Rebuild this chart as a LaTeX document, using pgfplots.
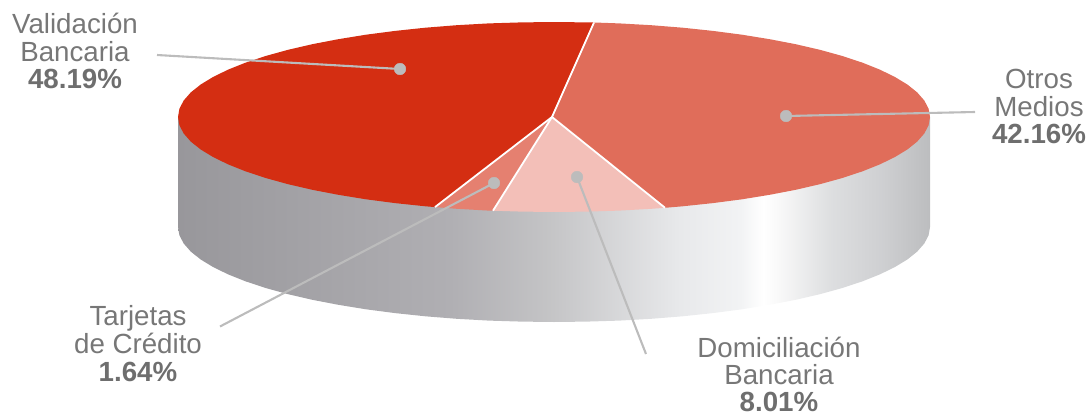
\documentclass[border=0pt]{standalone}
\usepackage{fontspec}
\setmainfont{Liberation Sans}
\usepackage{pgfplots}
\pgfplotsset{compat=1.18}
\definecolor{sliceA}{HTML}{D42E12}
\definecolor{sliceB}{HTML}{E06D5A}
\definecolor{sliceC}{HTML}{F3BFB8}
\definecolor{sliceD}{HTML}{E58070}
\definecolor{leader}{HTML}{BCBCBC}
\definecolor{labeltext}{HTML}{777777}
\definecolor{labelbold}{HTML}{6E6E6E}
% Rim of the disc: stops run from 25bp (left edge) to 75bp (right edge)
\pgfdeclarehorizontalshading{rim}{100bp}{
  rgb(0bp)=(0.596,0.592,0.608);
  rgb(25bp)=(0.596,0.592,0.608);
  rgb(43.1bp)=(0.690,0.686,0.702);
  rgb(49.7bp)=(0.769,0.769,0.776);
  rgb(58.4bp)=(0.910,0.914,0.922);
  rgb(62.4bp)=(0.949,0.953,0.957);
  rgb(63.9bp)=(1,1,1);
  rgb(65bp)=(0.973,0.973,0.973);
  rgb(68.4bp)=(0.867,0.871,0.878);
  rgb(71.7bp)=(0.812,0.816,0.824);
  rgb(75bp)=(0.737,0.741,0.749);
  rgb(100bp)=(0.737,0.741,0.749)}
\newcommand{\lab}[3]{\node[anchor=base,inner sep=0pt,text=labeltext,font=\fontsize{27.7}{28}\selectfont] at (axis cs:#1,#2) {#3};}
\newcommand{\labb}[3]{\node[anchor=base,inner sep=0pt,text=labelbold,font=\fontsize{27.7}{28}\selectfont\bfseries] at (axis cs:#1,#2) {#3};}
\begin{document}
\begin{tikzpicture}
\begin{axis}[
  scale only axis, width=1089pt, height=415pt,
  xmin=0, xmax=1089, ymin=0, ymax=415, y dir=reverse,
  axis lines=none, clip=false,
]
% Empty corners keep the full canvas in the picture's extent
\addplot[draw=none, forget plot] coordinates {(0,0)(1089,415)};
% Rim of the disc
\addplot[draw=none, shade, shading=rim] coordinates {
(930,117)(930,227)(928.6,235.3)(924.3,243.5)(917.2,251.6)(907.3,259.5)(894.8,267.1)(879.6,274.5)(862,281.5)(842,288.1)(819.9,294.2)(795.7,299.8)(769.7,304.8)(742,309.3)(712.9,313.1)(682.6,316.3)(651.3,318.8)(619.3,320.6)(586.8,321.6)(554,322)(521.2,321.6)(488.7,320.6)(456.7,318.8)(425.4,316.3)(395.1,313.1)(366,309.3)(338.3,304.8)(312.3,299.8)(288.1,294.2)(266,288.1)(246,281.5)(228.4,274.5)(213.2,267.1)(200.7,259.5)(190.8,251.6)(183.7,243.5)(179.4,235.3)(178,227)(178,117)
} -- cycle;
% Validación Bancaria
\addplot[fill=sliceA, draw=none] coordinates {
(552,117)(435,207.1)(425.4,206.3)(395.1,203.1)(366,199.3)(338.3,194.8)(312.3,189.8)(288.1,184.2)(266,178.1)(246,171.5)(228.4,164.5)(213.2,157.1)(200.7,149.5)(190.8,141.6)(183.7,133.5)(179.4,125.3)(178,117)(179.4,108.7)(183.7,100.5)(190.8,92.4)(200.7,84.5)(213.2,76.9)(228.4,69.5)(246,62.5)(266,55.9)(288.1,49.8)(312.3,44.2)(338.3,39.2)(366,34.7)(395.1,30.9)(425.4,27.7)(456.7,25.2)(488.7,23.4)(521.2,22.4)(554,22)(586.8,22.4)(594,22.5)
} -- cycle;
% Otros Medios
\addplot[fill=sliceB, draw=none] coordinates {
(552,117)(594,22.5)(619.3,23.4)(651.3,25.2)(682.6,27.7)(712.9,30.9)(742,34.7)(769.7,39.2)(795.7,44.2)(819.9,49.8)(842,55.9)(862,62.5)(879.6,69.5)(894.8,76.9)(907.3,84.5)(917.2,92.4)(924.3,100.5)(928.6,108.7)(930,117)(928.6,125.3)(924.3,133.5)(917.2,141.6)(907.3,149.5)(894.8,157.1)(879.6,164.5)(862,171.5)(842,178.1)(819.9,184.2)(795.7,189.8)(769.7,194.8)(742,199.3)(712.9,203.1)(682.6,206.3)(665,207.8)
} -- cycle;
% Domiciliación Bancaria
\addplot[fill=sliceC, draw=none] coordinates {
(552,117)(665,207.8)(651.3,208.8)(619.3,210.6)(586.8,211.6)(554,212)(521.2,211.6)(493,210.7)
} -- cycle;
% Tarjetas de Crédito
\addplot[fill=sliceD, draw=none] coordinates {
(552,117)(493,210.7)(488.7,210.6)(456.7,208.8)(435,207.1)
} -- cycle;
% Slice separators
\addplot[white, line width=1.8pt] coordinates {(594,22.5)(552,117)(435,207.1)};
\addplot[white, line width=1.8pt] coordinates {(493,210.7)(552,117)(665,207.8)};
% Leader lines with their end dots
\addplot[leader, line width=2.1pt] coordinates {(157,55)(400,69)};
\addplot[leader, line width=2.1pt] coordinates {(786,116)(975,112)};
\addplot[leader, line width=2.1pt] coordinates {(577,177)(646,354)};
\addplot[leader, line width=2.1pt] coordinates {(494,183)(220,326.5)};
\addplot[only marks, color=leader, mark=*, mark size=5.8pt, mark options={draw=leader, fill=leader}] coordinates {(400,69)(786,116)(577,177)(494,183)};
% Labels
\lab{75}{33}{Validación}
\lab{75}{61}{Bancaria}
\labb{75}{88.5}{48.19\%}
\lab{1039}{88}{Otros}
\lab{1039}{116}{Medios}
\labb{1039}{143.5}{42.16\%}
\lab{138}{325}{Tarjetas}
\lab{138}{353}{de Crédito}
\labb{138}{381}{1.64\%}
\lab{779}{357}{Domiciliación}
\lab{779}{384.5}{Bancaria}
\labb{779}{411}{8.01\%}
\end{axis}
\end{tikzpicture}
\end{document}
